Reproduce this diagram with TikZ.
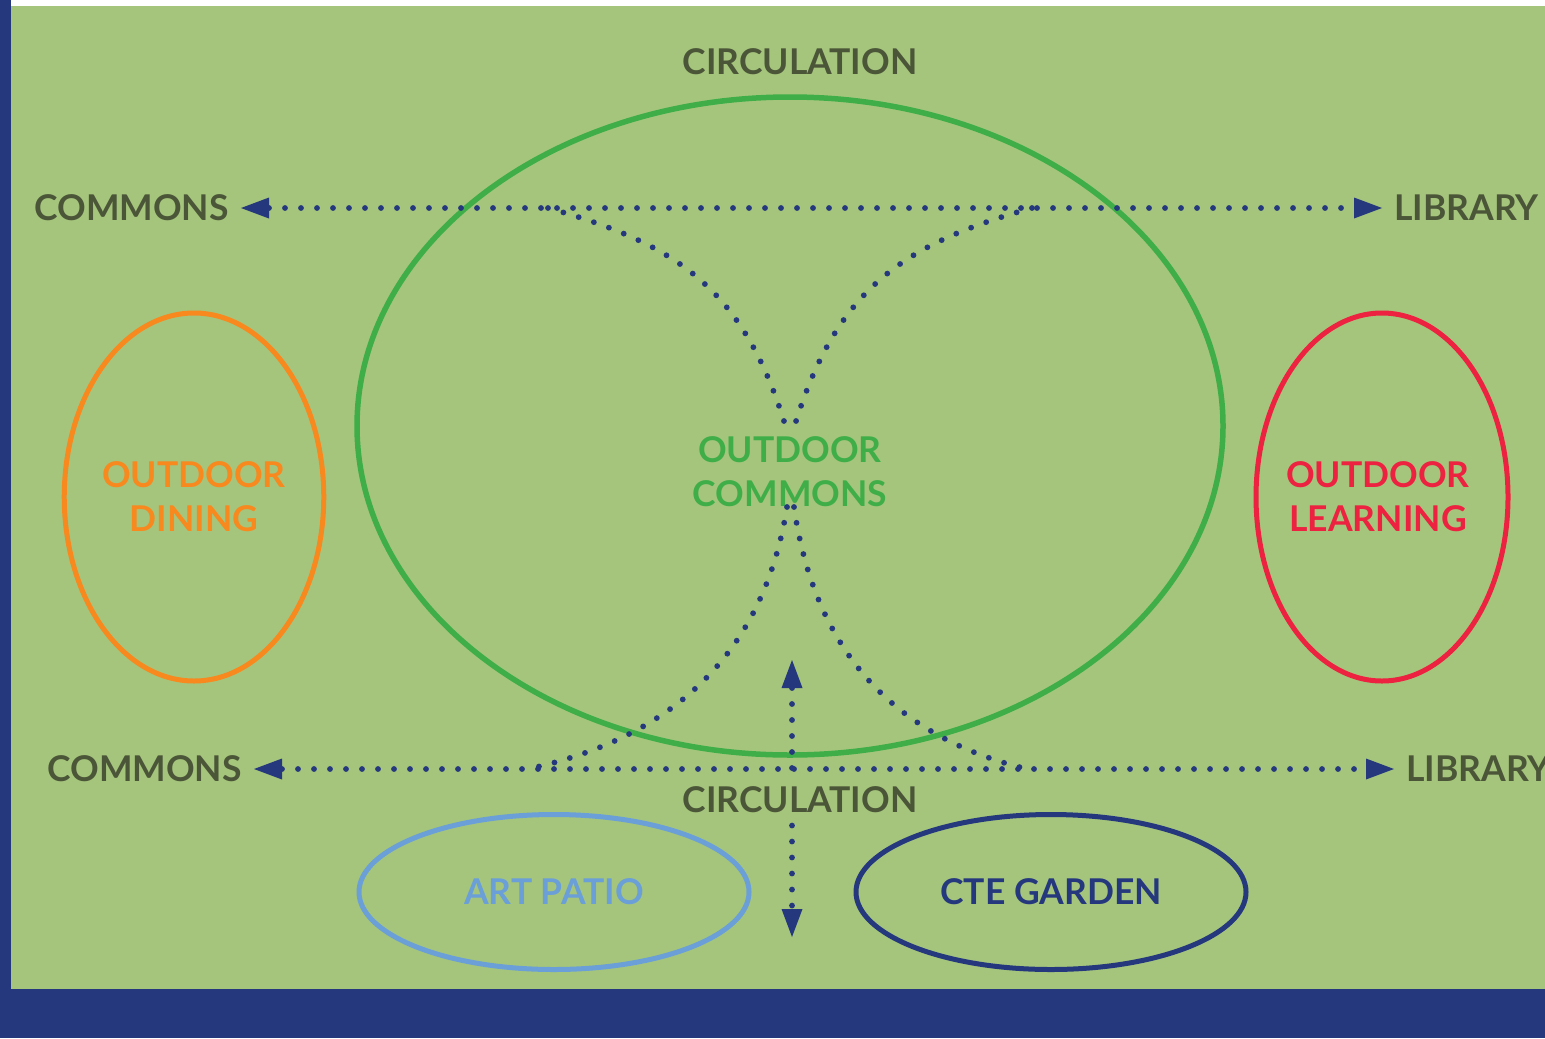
\documentclass[tikz,border=0pt]{standalone}
\usepackage{fontspec}
\setmainfont{Lato}
\usetikzlibrary{positioning}
\usetikzlibrary{arrows.meta, shapes.geometric}

\definecolor{navy}{HTML}{25387E}
\definecolor{lawn}{HTML}{A5C57C}
\definecolor{ink}{HTML}{4B5638}
\definecolor{leaf}{HTML}{3FAE49}
\definecolor{tangerine}{HTML}{F7891F}
\definecolor{crimson}{HTML}{EC2240}
\definecolor{sky}{HTML}{6A9FD8}

\begin{document}
\begin{tikzpicture}[
  lbl/.style={font=\bfseries\fontsize{10.1}{12.5}\selectfont, text=ink, align=center},
  walk/.style={navy, line width=0.058cm, line cap=round, dash pattern=on 0pt off 0.16cm},
  zone/.style={ellipse, draw, line width=0.05cm, inner sep=0pt, align=center, font=\bfseries\fontsize{10.1}{12.5}\selectfont},
  >={Triangle[length=2.8mm,width=2.1mm,line width=0pt]}
]
\useasboundingbox (0,0) rectangle (15.45,10.38);
\fill[navy] (0,0) rectangle (15.45,10.38);
\fill[white] (0.11,10.32) rectangle (15.45,10.38);
\fill[lawn] (0.11,0.49) rectangle (15.45,10.32);

% big ring
\draw[leaf,line width=0.055cm] (7.90,6.12) ellipse [x radius=4.33, y radius=3.29];

\node[lbl] (circT) at (8.00,9.76) {CIRCULATION};
\node[lbl,anchor=east] (commonsT) at (2.41,8.30) {COMMONS};
\node[lbl,anchor=west] (libraryT) at (13.82,8.30) {LIBRARY};
\node[lbl,anchor=east] (commonsB) at (2.54,2.69) {COMMONS};
\node[lbl,anchor=west] (libraryB) at (13.94,2.69) {LIBRARY};
\node[lbl] (circB) at (8.00,2.38) {CIRCULATION};

\node[lbl,text=leaf] (ocommons) at (7.90,5.66) {OUTDOOR\\COMMONS};
\node[zone,draw=tangerine,text=tangerine,minimum width=2.52cm,minimum height=3.68cm] (dining) at (1.94,5.41) {OUTDOOR\\DINING};
\node[zone,draw=crimson,text=crimson,minimum width=2.52cm,minimum height=3.68cm] (learning) at (13.82,5.41) {\hspace*{-0.08cm}OUTDOOR\\\hspace*{-0.08cm}LEARNING};
\node[zone,draw=sky,text=sky,minimum width=3.90cm,minimum height=1.55cm] (patio) at (5.54,1.46) {ART PATIO};
\node[zone,draw=navy,text=navy,minimum width=3.90cm,minimum height=1.55cm] (garden) at (10.51,1.46) {CTE GARDEN};

% paths
\draw[walk,<->] (commonsT) -- (libraryT);
\draw[walk,<->] (commonsB) -- (libraryB);

\coordinate (upTip) at (7.92,3.78);
\coordinate (downTip) at (7.92,1.01);
\draw[walk,<-] (upTip) -- (upTip |- circB.north);
\draw[walk,->] (upTip |- circB.south) -- (downTip);

\coordinate (nwStart) at (5.48,8.30);
\coordinate (neStart) at (10.32,8.30);
\coordinate (nwEnd) at (7.87,6.07);
\coordinate (neEnd) at (7.93,6.07);
\coordinate (swStart) at (7.87,5.31);
\coordinate (seStart) at (7.94,5.31);
\coordinate (swEnd) at (5.28,2.69);
\coordinate (seEnd) at (10.27,2.69);

\draw[walk] (nwStart) .. controls (6.77,7.94) and (7.45,7.49) .. (nwEnd);
\draw[walk] (neStart) .. controls (9.03,7.94) and (8.35,7.49) .. (neEnd);
\draw[walk] (swStart) .. controls (7.625,3.78) and (6.66,2.99) .. (swEnd);
\draw[walk] (seStart) .. controls (8.16,3.78) and (9.03,2.99) .. (seEnd);

\end{tikzpicture}
\end{document}
